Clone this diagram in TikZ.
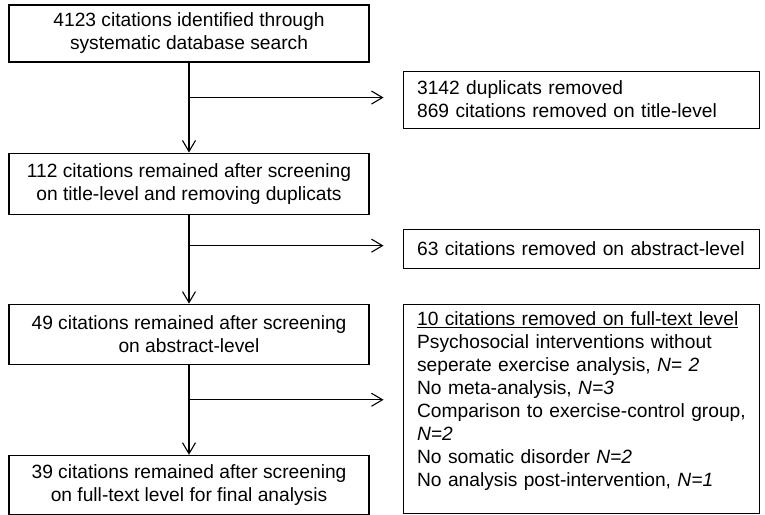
\documentclass[tikz,border=0pt]{standalone}
\usepackage{fontspec}
\setmainfont{Liberation Sans}
\usetikzlibrary{positioning,arrows.meta}

\tikzset{
  stage/.style={draw, line width=1.1pt, minimum width=360pt, minimum height=59pt,
    align=center, inner sep=0pt},
  removed/.style={draw, line width=1.1pt, text width=328pt, inner xsep=14pt,
    inner ysep=7pt, align=left},
  flow/.style={line width=1.1pt, -{Straight Barb[length=11pt,width=13pt]}},
}

\begin{document}
\begin{tikzpicture}[font=\fontsize{19.2}{23}\selectfont]
  \useasboundingbox (0,0) rectangle (765pt,-514pt);
  % main stages
  \node [stage, minimum height=57pt] (found) at (189pt,-33.5pt)
    {4123 citations identified through\\systematic database search};
  \node [stage, minimum height=61pt, below=90pt of found] (title)
    {112 citations remained after screening\\on title-level and removing duplicats};
  \node [stage, minimum height=60pt, below=89pt of title] (abstract)
    {49 citations remained after screening\\on abstract-level};
  \node [stage, below=90pt of abstract] (final)
    {39 citations remained after screening\\on full-text level for final analysis};
  % exclusions
  \node [removed, minimum height=57pt, below right=8pt and 33pt of found.south east] (dup)
    {3142 duplicats removed\\869 citations removed on title-level};
  \node [removed, minimum height=39pt, below right=14pt and 33pt of title.south east] (abs)
    {63 citations removed on abstract-level};
  \node [removed, right=33pt of abstract.north east, anchor=north west] (full)
    {\parbox[c][195pt][t]{328pt}{\underline{10 citations removed on full-text level}\\
     Psychosocial interventions without\\
     seperate exercise analysis, \textit{N}= \textit{2}\\
     No meta-analysis, \textit{N=3}\\
     \mbox{Comparison to exercise-control group,}\\
     \textit{N=2}\\
     No somatic disorder \textit{N=2}\\
     No analysis post-intervention, \textit{N=1}}};
  % branch points
  \coordinate [below=35pt of found.south] (b1);
  \coordinate [below=31pt of title.south] (b2);
  \coordinate [below=35pt of abstract.south] (b3);
  \path (b1 -| dup.west) ++(-19pt,0) coordinate (e1);
  \path (b2 -| abs.west) ++(-19pt,0) coordinate (e2);
  \path (b3 -| full.west) ++(-19pt,0) coordinate (e3);
  \draw [flow] (found) -- (title);
  \draw [flow] (title) -- (abstract);
  \draw [flow] (abstract) -- (final);
  \draw [flow] (b1) -- (e1);
  \draw [flow] (b2) -- (e2);
  \draw [flow] (b3) -- (e3);
\end{tikzpicture}
\end{document}
